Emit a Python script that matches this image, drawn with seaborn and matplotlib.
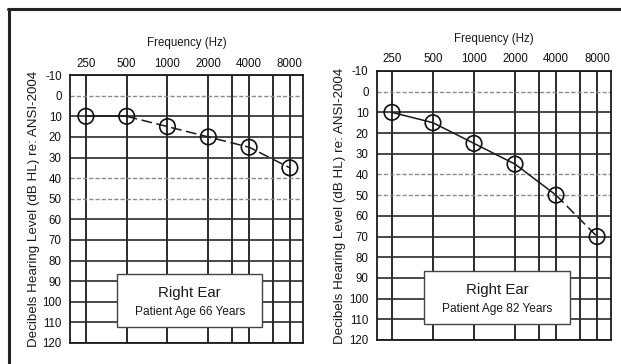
import matplotlib
matplotlib.use('Agg')
import matplotlib.pyplot as plt
import seaborn as sns
import pandas as pd
from matplotlib.patches import Rectangle
from matplotlib.lines import Line2D

# --- data ---
freqs = [250, 500, 1000, 2000, 4000, 8000]
tick_labels = ['250', '500', '1000', '2000', '4000', '8000']
grid_freqs = [250, 500, 1000, 2000, 3000, 4000, 6000, 8000]
db_levels = list(range(-10, 130, 10))
light_levels = [0, 40, 50]

age66_db = [10, 10, 15, 20, 25, 35]
age82_db = [10, 15, 25, 35, 50, 70]

ages = ['66', '82']
solid_until = [1, 4]      # index where the dashed part starts

sns.set_style('white')
plt.rcParams['font.family'] = ['Liberation Sans', 'DejaVu Sans']

fig = plt.figure(figsize=(6.21, 3.64), dpi=100)
fig.patch.set_facecolor('white')

axes_pos = [[0.1127, 0.0577, 0.375, 0.736],
            [0.607, 0.066, 0.377, 0.739]]
xlims = [(190.8, 9970), (194, 10136)]

for i, levels in enumerate([age66_db, age82_db]):
    ax = fig.add_axes(axes_pos[i])
    df = pd.DataFrame({'freq': freqs, 'db': levels})
    k = solid_until[i]

    for f in grid_freqs:
        ax.axvline(f, color='#1a1a1a', lw=1.3, zorder=1)
    for d in db_levels:
        if d in light_levels:
            ax.axhline(d, color='#8a8a8a', lw=1.0, ls=(0, (3, 1.5)), zorder=1)
        else:
            ax.axhline(d, color='#2a2a2a', lw=1.2, zorder=1)

    sns.lineplot(data=df.iloc[:k + 1], x='freq', y='db', ax=ax,
                 color='#1a1a1a', lw=1.1, zorder=2)
    sns.lineplot(data=df.iloc[k:], x='freq', y='db', ax=ax,
                 color='#1a1a1a', lw=1.1, zorder=2)
    ax.lines[-1].set_linestyle((0, (7, 3)))
    sns.scatterplot(data=df, x='freq', y='db', ax=ax, s=125, marker='o',
                    facecolor='none', edgecolor='#111111', linewidth=1.2, zorder=3)

    ax.set_xscale('log', base=2)
    ax.set_xlim(*xlims[i])
    ax.set_ylim(120, -10)
    ax.xaxis.tick_top()
    ax.set_xticks(freqs)
    ax.set_xticklabels(tick_labels)
    ax.minorticks_off()
    ax.set_yticks(db_levels)
    ax.set_yticklabels([str(d) for d in db_levels])
    ax.tick_params(axis='both', length=0, labelsize=8.3, colors='#111111')
    ax.tick_params(axis='x', pad=4)
    ax.tick_params(axis='y', pad=6)
    ax.set_xlabel('')
    ax.set_ylabel('Decibels Hearing Level (dB HL) re: ANSI-2004',
                  fontsize=9.6, color='#1a1a1a', labelpad=2)
    for sp in ax.spines.values():
        sp.set_color('#1a1a1a')
        sp.set_linewidth(1.3)

    ax.text(0.5, 1.12, 'Frequency (Hz)', transform=ax.transAxes,
            ha='center', va='center', fontsize=8.3, color='#1a1a1a')

    ax.add_patch(Rectangle((0.202, 0.058), 0.624, 0.198, transform=ax.transAxes,
                           facecolor='white', edgecolor='#444444', lw=1.0, zorder=4))
    ax.text(0.514, 0.187, 'Right Ear', transform=ax.transAxes, ha='center',
            va='center', fontsize=10.8, color='#1a1a1a', zorder=5)
    ax.text(0.514, 0.114, f'Patient Age {ages[i]} Years', transform=ax.transAxes,
            ha='center', va='center', fontsize=8.6, color='#1a1a1a', zorder=5)

# outer frame: top and left edges only
fig.add_artist(Line2D([8 / 621, 1], [1 - 9 / 364, 1 - 9 / 364],
                      transform=fig.transFigure, color='#222222', lw=2.2))
fig.add_artist(Line2D([9 / 621, 9 / 621], [0, 1 - 9 / 364],
                      transform=fig.transFigure, color='#222222', lw=2.2))

fig.savefig('out.png', dpi=100, facecolor='white')
